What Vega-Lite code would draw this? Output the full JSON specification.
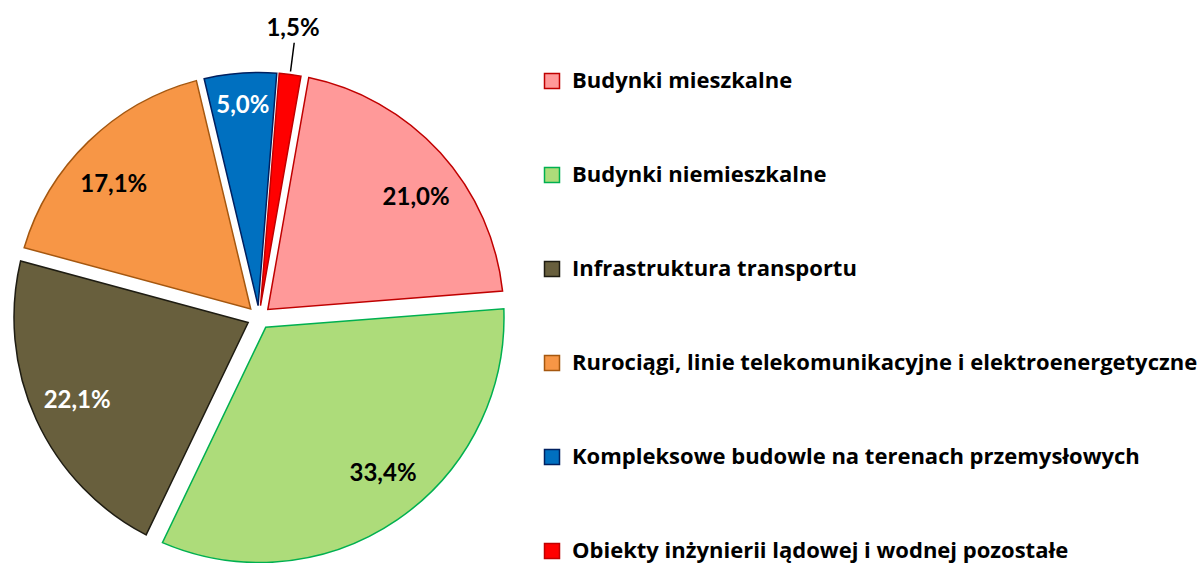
{
  "$schema": "https://vega.github.io/schema/vega-lite/v6.json",
  "width": 518,
  "height": 491,
  "autosize": {"type": "none"},
  "padding": {"left": 0, "top": 72, "right": 682, "bottom": 0},
  "background": "white",
  "config": {"view": {"stroke": null}, "font": "Lato"},
  "data": {
    "values": [
      {"category": "Budynki mieszkalne", "pct": 21.0, "label": "21,0%", "order": 1},
      {"category": "Budynki niemieszkalne", "pct": 33.4, "label": "33,4%", "order": 2},
      {"category": "Infrastruktura transportu", "pct": 22.1, "label": "22,1%", "order": 3},
      {"category": "Rurociągi, linie telekomunikacyjne i elektroenergetyczne", "pct": 17.1, "label": "17,1%", "order": 4},
      {"category": "Kompleksowe budowle na terenach przemysłowych", "pct": 5.0, "label": "5,0%", "order": 5},
      {"category": "Obiekty inżynierii lądowej i wodnej pozostałe", "pct": 1.5, "label": "1,5%", "order": 6}
    ]
  },
  "encoding": {
    "theta": {"field": "pct", "type": "quantitative", "stack": true, "scale": {"range": [0.1745, 6.4577]}},
    "order": {"field": "order", "type": "quantitative"}
  },
  "layer": [
    {
      "mark": {
        "type": "arc",
        "innerRadius": 11.9,
        "outerRadius": 245,
        "padAngle": {"expr": "2*asin(12*sin(datum.pct/100.1*PI)/245.29)"},
        "strokeWidth": 1.5,
        "strokeJoin": "miter"
      },
      "encoding": {
        "fill": {
          "field": "category",
          "type": "nominal",
          "scale": {
            "domain": ["Budynki mieszkalne", "Budynki niemieszkalne", "Infrastruktura transportu", "Rurociągi, linie telekomunikacyjne i elektroenergetyczne", "Kompleksowe budowle na terenach przemysłowych", "Obiekty inżynierii lądowej i wodnej pozostałe"],
            "range": ["#FF9999", "#ADDC7A", "#685F3D", "#F79646", "#0070C0", "#FF0000"]
          },
          "legend": {"orient": "none", "legendX": 541, "legendY": -2, "title": null, "symbolType": "square", "symbolSize": 225, "symbolStrokeWidth": 1.5, "labelFont": "Open Sans", "labelFontWeight": "bold", "labelFontSize": 22, "labelColor": "#000000", "labelLimit": 1000, "rowPadding": 72, "labelOffset": 9, "padding": 0}
        },
        "stroke": {
          "field": "category",
          "type": "nominal",
          "scale": {
            "domain": ["Budynki mieszkalne", "Budynki niemieszkalne", "Infrastruktura transportu", "Rurociągi, linie telekomunikacyjne i elektroenergetyczne", "Kompleksowe budowle na terenach przemysłowych", "Obiekty inżynierii lądowej i wodnej pozostałe"],
            "range": ["#C00000", "#00B050", "#1E1C12", "#A5570F", "#002060", "#C00000"]
          },
          "legend": {"orient": "none", "legendX": 541, "legendY": -2, "title": null, "symbolType": "square", "symbolSize": 225, "symbolStrokeWidth": 1.5, "labelFont": "Open Sans", "labelFontWeight": "bold", "labelFontSize": 22, "labelColor": "#000000", "labelLimit": 1000, "rowPadding": 72, "labelOffset": 9, "padding": 0}
        }
      }
    },
    {
      "mark": {"type": "arc", "filled": false, "innerRadius": 248, "outerRadius": 277, "padAngle": 1, "strokeWidth": 1.5},
      "encoding": {
        "stroke": {"condition": {"test": "datum.pct < 2", "value": "#000000"}, "value": "transparent"}
      }
    },
    {
      "mark": {
        "type": "text",
        "font": "Lato",
        "fontWeight": "bold",
        "fontSize": 24,
        "radius": {"expr": "datum.pct < 2 ? 291 : datum.pct < 6 ? 212 : 200"},
        "dx": {"expr": "datum.order == 1 ? 9 : datum.order == 2 ? 11 : datum.order == 4 ? -6 : datum.order == 6 ? -3 : 0"},
        "dy": {"expr": "datum.order == 1 ? 15 : datum.order == 2 ? -8 : datum.order == 4 ? 11 : 0"}
      },
      "encoding": {
        "text": {"field": "label"},
        "color": {"condition": {"test": "datum.order == 3 || datum.order == 5", "value": "#FFFFFF"}, "value": "#000000"}
      }
    }
  ]
}
